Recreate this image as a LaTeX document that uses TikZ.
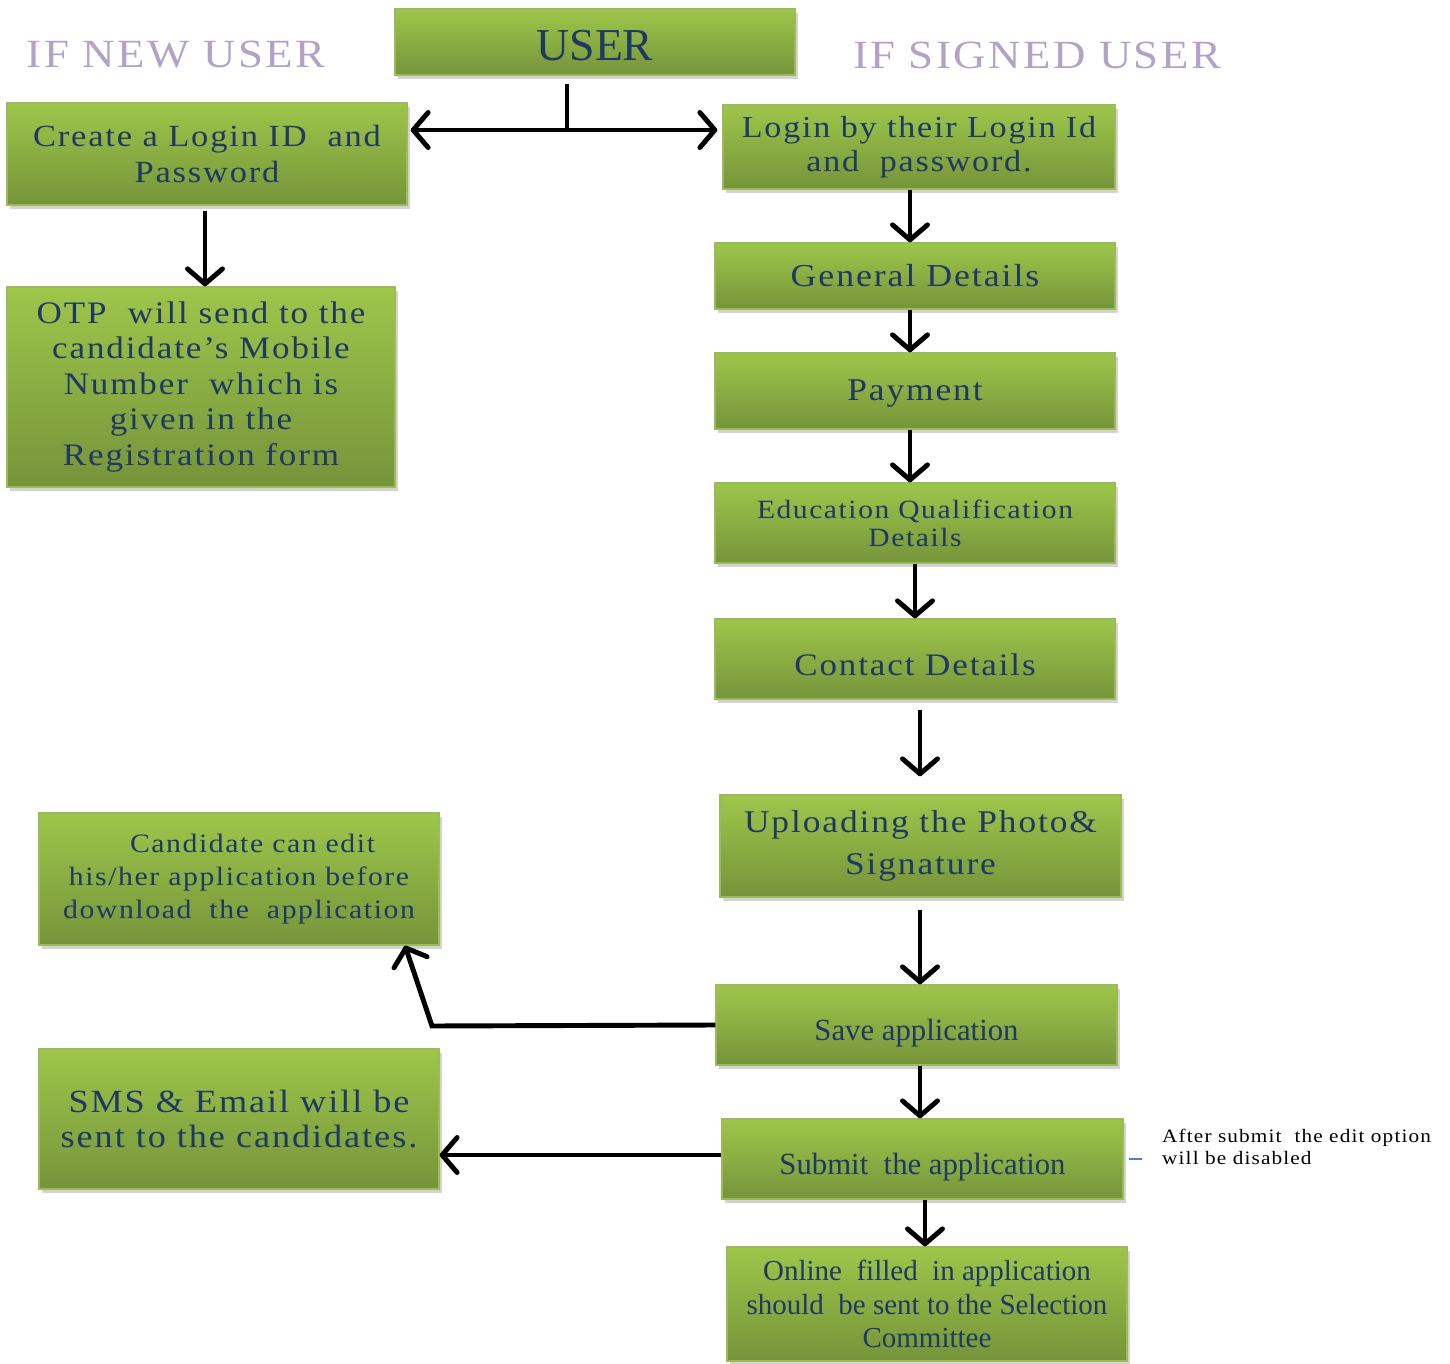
\documentclass[tikz,border=0pt]{standalone}
\usepackage{fontspec}
\setmainfont{Liberation Serif}
\newfontfamily\widefont[FakeStretch=1.12,LetterSpace=6]{Liberation Serif}
\usetikzlibrary{arrows.meta,shadows}

\definecolor{boxtop}{RGB}{157,198,74}
\definecolor{boxbot}{RGB}{118,148,58}
\definecolor{boxline}{RGB}{155,187,89}
\definecolor{txtblue}{RGB}{31,56,100}
\definecolor{headpurple}{RGB}{179,162,199}
\definecolor{notecol}{RGB}{79,129,189}
\newcommand{\fsz}[2]{\fontsize{#1}{#2}\selectfont}
\newcommand{\dropby}[2]{\raisebox{-#1}[\height][\depth]{#2}}

\begin{document}
\begin{tikzpicture}[x=0.02cm,y=-0.02cm,
  box/.style={rectangle,draw=boxline,line width=0.8pt,top color=boxtop,bottom color=boxbot,
    text=txtblue,align=center,inner sep=0pt,
    drop shadow={shadow xshift=1.5pt,shadow yshift=-2.5pt,opacity=0.35}},
  head/.style={text=headpurple,font=\widefont\fsz{22.8}{28}},
  arr/.style={line width=2.8pt,>={Straight Barb[length=3mm,width=7mm,round]}}]
\useasboundingbox (0,0) rectangle (1450,1364);

\node[head] (newhd) at (176,55) {IF NEW USER};
\node[head] (signhd) at (1037,55) {IF SIGNED USER};

\node[box,minimum width=8cm,minimum height=1.32cm,font=\fsz{26}{30}] (user) at (595,42) {\dropby{2pt}{USER}};

% left column
\node[box,minimum width=8cm,minimum height=2.04cm,font=\widefont\fsz{17.5}{20.5}] (create) at (207,154)
  {Create a Login ID\ \ and\\Password};
\node[box,minimum width=7.76cm,minimum height=4cm,font=\widefont\fsz{17.8}{20.2}] (otp) at (201,387)
  {OTP\ \ will send to the\\candidate’s Mobile\\Number\ \ which is\\given in the\\Registration form};
\node[box,minimum width=8cm,minimum height=2.64cm,font=\widefont\fsz{15.1}{19}] (edit) at (239,879)
  {\ \ \ Candidate can edit\\his/her application before\\download\ \ the\ \ application};
\node[box,minimum width=8cm,minimum height=2.8cm,font=\widefont\fsz{18.4}{20}] (sms) at (239,1119)
  {SMS \& Email will be\\sent to the candidates.};

% right column
\node[box,minimum width=7.84cm,minimum height=1.68cm,font=\widefont\fsz{17.3}{19.5}] (login) at (919,147)
  {Login by their Login Id\\and\ \ password.};
\node[box,minimum width=8cm,minimum height=1.32cm,font=\widefont\fsz{18.2}{20}] (general) at (915,276) {General Details};
\node[box,minimum width=8cm,minimum height=1.52cm,font=\widefont\fsz{18}{20}] (payment) at (915,391) {\dropby{1.5pt}{Payment}};
\node[box,minimum width=8cm,minimum height=1.6cm,font=\widefont\fsz{15}{16}] (edu) at (915,523)
  {Education Qualification\\Details};
\node[box,minimum width=8cm,minimum height=1.6cm,font=\widefont\fsz{17.8}{20}] (contact) at (915,659) {\dropby{3.4pt}{Contact Details}};
\node[box,minimum width=8.02cm,minimum height=2.04cm,font=\widefont\fsz{18}{24}] (upload) at (920.5,846)
  {Uploading the Photo\&\\Signature};
\node[box,minimum width=8.02cm,minimum height=1.6cm,font=\fsz{17.5}{20}] (save) at (916.5,1025) {\dropby{4.5pt}{Save application}};
\node[box,minimum width=8.02cm,minimum height=1.6cm,font=\fsz{17.5}{20}] (submit) at (922.5,1159) {\dropby{4.5pt}{Submit\ \ the application}};
\node[box,minimum width=8cm,minimum height=2.28cm,font=\fsz{16.5}{19}] (online) at (927,1304)
  {Online\ \ filled\ \ in application\\should\ \ be sent to the Selection\\Committee};

\node[anchor=west,align=left,font=\widefont\fsz{10.8}{12.5}] (note) at (1156,1147)
  {After submit\ \ the edit option\\will be disabled};
\draw[notecol,line width=0.8pt,shorten <=0.1cm,shorten >=0.28cm] (submit.east) -- (submit.east -| note.west);

% connectors
\coordinate (fork) at (567,130);
\draw[arr,shorten <=0.16cm] (user.south -| fork) -- (fork);
\draw[arr,<->,shorten <=0.06cm,shorten >=0.1cm] (fork -| create.east) -- (fork -| login.west);
\draw[arr,->,shorten <=0.1cm] (create.south -| 205,0) -- (otp.north -| 205,0);
\draw[arr,->] (login.south -| 910,0) -- (general.north -| 910,0);
\draw[arr,->] (general.south -| 910,0) -- (payment.north -| 910,0);
\draw[arr,->] (payment.south -| 910,0) -- (edu.north -| 910,0);
\draw[arr,->] (edu.south -| 915,0) -- (contact.north -| 915,0);
\draw[arr,->,shorten <=0.2cm,shorten >=0.36cm] (contact.south -| 920,0) -- (upload.north -| 920,0);
\draw[arr,->,shorten <=0.24cm] (upload.south -| 920,0) -- (save.north -| 920,0);
\draw[arr,->] (save.south -| 920,0) -- (submit.north -| 920,0);
\draw[arr,->] (submit.south -| 925,0) -- (online.north -| 925,0);
\coordinate (elbow) at (432,1026);
\draw[arr,->] (save.west) -- (elbow) -- (edit.south -| 405,0);
\draw[arr,->] (submit.west |- 0,1155) -- (sms.east |- 0,1155);
\end{tikzpicture}
\end{document}
